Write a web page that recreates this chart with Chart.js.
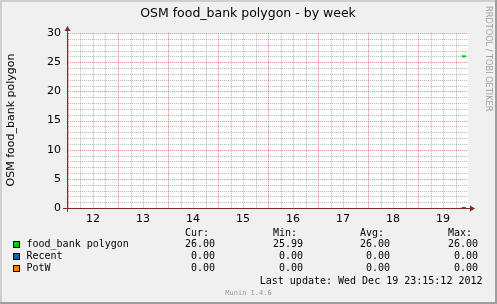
<!DOCTYPE html>
<html>
<head>
<meta charset="utf-8">
<title>OSM food_bank polygon - by week</title>
<script src="https://cdn.jsdelivr.net/npm/chart.js@4/dist/chart.umd.min.js"></script>
<style>
  html, body { margin: 0; padding: 0; background: #F0F0F0; }
  #wrap { width: 497px; height: 304px; }
</style>
</head>
<body>
<div id="wrap"><canvas id="graph" width="497" height="304"></canvas></div>
<script>
// Time is expressed as day-of-month (Dec 2012), 19.5 = Dec 19 12:00.
const dayTicks = [12, 13, 14, 15, 16, 17, 18, 19];
const dayLabels = ['12', '13', '14', '15', '16', '17', '18', '19'];
const xRange = [11.98, 20];
const yTicks = [0, 5, 10, 15, 20, 25, 30];

// Samples (30-minute steps, Dec 19 21:00 .. 23:00)
const sampleTimes = [19.875, 19.896, 19.917, 19.938, 19.958];
const foodBank = [26, 26, 25.99, 26, 26];
const recent = [0, 0, 0, 0, 0];
const potw = [0, 0, 0, 0, 0];

// Legend table
const seriesNames = ['food_bank polygon', 'Recent', 'PotW'];
const statHeaders = ['Cur:', 'Min:', 'Avg:', 'Max:'];
const statCur = [26.00, 0, 0];
const statMin = [25.99, 0, 0];
const statAvg = [26.00, 0, 0];
const statMax = [26.00, 0, 0];
const lastUpdate = 'Last update: Wed Dec 19 23:15:12 2012';

const COLORS = ['#00CC00', '#0066B3', '#FF8000'];
const AXIS = '#7E2A2A';
const GRID_MINOR = 'rgba(143,143,143,0.45)';
const GRID_MAJOR = 'rgba(245,0,0,0.32)';
const GRID_MINOR_FAINT = 'rgba(143,143,143,0.12)';
const GRID_MAJOR_FAINT = 'rgba(245,0,0,0.10)';

const toPoints = (vals) => sampleTimes.map((t, i) => ({ x: t, y: vals[i] }));
const isInt = (v, step) => Math.abs(v / step - Math.round(v / step)) < 1e-6;

const munin = {
  id: 'munin',
  beforeDraw(chart) {
    const { ctx, chartArea: a, width: W, height: H } = chart;
    ctx.save();
    ctx.fillStyle = '#F0F0F0';
    ctx.fillRect(0, 0, W, H);
    // bevelled frame
    ctx.fillStyle = '#CFCFCF';
    ctx.fillRect(0, 0, W, 2);
    ctx.fillRect(0, 0, 2, H);
    ctx.fillStyle = '#9E9E9E';
    ctx.fillRect(W - 2, 0, 2, H);
    ctx.fillRect(0, H - 2, W, 2);
    // canvas
    ctx.fillStyle = '#FFFFFF';
    ctx.fillRect(a.left, a.top, a.right - a.left, a.bottom - a.top);
    ctx.restore();
  },
  beforeDatasetsDraw(chart) {
    // dotted grid (1 on / 1 off): grey minor lines, red major lines, at the scale ticks
    const { ctx, chartArea: a, scales } = chart;
    const L = Math.round(a.left), R = Math.round(a.right);
    const T = Math.round(a.top), B = Math.round(a.bottom);
    ctx.save();
    const pass = (major) => {
      const dot = major ? GRID_MAJOR : GRID_MINOR;
      const faint = major ? GRID_MAJOR_FAINT : GRID_MINOR_FAINT;
      scales.x.ticks.forEach((t) => {
        if (isInt(t.value, 1) !== major) return;
        const col = Math.round(scales.x.getPixelForValue(t.value));
        if (col <= L || col >= R) return;
        ctx.fillStyle = faint;
        ctx.fillRect(col, T, 1, B - T);
        ctx.fillStyle = dot;
        for (let r = T; r < B; r += 2) ctx.fillRect(col, r, 1, 1);
      });
      scales.y.ticks.forEach((t) => {
        if (isInt(t.value, 5) !== major) return;
        const row = Math.round(scales.y.getPixelForValue(t.value));
        if (row >= B) return;
        ctx.fillStyle = faint;
        ctx.fillRect(L + 1, row, R - L - 1, 1);
        ctx.fillStyle = dot;
        for (let c = L + 1; c < R; c += 2) ctx.fillRect(c, row, 1, 1);
      });
    };
    pass(false);
    pass(true);
    ctx.restore();
  },
  afterDatasetsDraw(chart) {
    const { ctx, chartArea: a } = chart;
    const x0 = Math.round(a.left) + 0.5;
    const y0 = Math.round(a.bottom) + 0.5;
    ctx.save();
    ctx.strokeStyle = AXIS;
    ctx.fillStyle = AXIS;
    ctx.lineWidth = 1;
    ctx.beginPath();
    ctx.moveTo(a.left - 4, y0);
    ctx.lineTo(a.right + 2, y0);
    ctx.moveTo(x0, a.bottom + 4);
    ctx.lineTo(x0, a.top - 3);
    ctx.stroke();
    // arrow heads
    ctx.beginPath();
    ctx.moveTo(a.right + 2, y0 - 3);
    ctx.lineTo(a.right + 7, y0);
    ctx.lineTo(a.right + 2, y0 + 3);
    ctx.closePath();
    ctx.fill();
    ctx.beginPath();
    ctx.moveTo(x0 - 3, a.top - 2);
    ctx.lineTo(x0, a.top - 7);
    ctx.lineTo(x0 + 3, a.top - 2);
    ctx.closePath();
    ctx.fill();
    ctx.restore();
  },
  afterDraw(chart) {
    const { ctx } = chart;
    ctx.save();
    ctx.fillStyle = '#000';
    ctx.textBaseline = 'middle';

    // title
    ctx.font = '12.5px "DejaVu Sans"';
    ctx.textAlign = 'center';
    ctx.fillText('OSM food_bank polygon - by week', 248, 14);

    // vertical axis title
    ctx.save();
    ctx.translate(11.5, 120);
    ctx.rotate(-Math.PI / 2);
    ctx.font = '11px "DejaVu Sans"';
    ctx.fillText('OSM food_bank polygon', 0, 0);
    ctx.restore();

    // side credit
    ctx.save();
    ctx.translate(488, 6);
    ctx.rotate(Math.PI / 2);
    ctx.textAlign = 'left';
    ctx.fillStyle = '#A0A0A0';
    ctx.font = '8.2px "DejaVu Sans"';
    ctx.fillText('RRDTOOL / TOBI OETIKER', 0, 0);
    ctx.restore();

    // legend table
    ctx.font = '10px "DejaVu Sans Mono"';
    const colRight = [215, 303, 390, 478];
    const cols = [statCur, statMin, statAvg, statMax];
    const rowY = [244.5, 256.5, 268.5];
    ctx.textAlign = 'left';
    statHeaders.forEach((h, i) => ctx.fillText(h, colRight[i] - 30, 233));
    seriesNames.forEach((name, r) => {
      ctx.fillStyle = COLORS[r];
      ctx.fillRect(13, rowY[r] - 3.5, 7, 7);
      ctx.strokeStyle = '#000';
      ctx.lineWidth = 1;
      ctx.strokeRect(13.5, rowY[r] - 3, 6, 6);
      ctx.fillStyle = '#000';
      ctx.textAlign = 'left';
      ctx.fillText(name, 26.5, rowY[r]);
      ctx.textAlign = 'right';
      cols.forEach((col, c) => ctx.fillText(col[r].toFixed(2), colRight[c], rowY[r]));
    });
    ctx.textAlign = 'right';
    ctx.fillText(lastUpdate, 482.5, 281.5);

    // footer
    ctx.textAlign = 'center';
    ctx.fillStyle = '#9A9A9A';
    ctx.font = '7px "DejaVu Sans Mono"';
    ctx.fillText('Munin 1.4.6', 248.5, 293);
    ctx.restore();
  }
};

const lineSet = (label, vals, color) => ({
  label,
  data: toPoints(vals),
  borderColor: color,
  backgroundColor: color,
  borderWidth: 2,
  pointRadius: 0,
  tension: 0,
  borderCapStyle: 'butt'
});

new Chart(document.getElementById('graph'), {
  type: 'line',
  data: {
    datasets: [
      lineSet(seriesNames[0], foodBank, COLORS[0]),
      lineSet(seriesNames[1], recent, COLORS[1]),
      lineSet(seriesNames[2], potw, COLORS[2])
    ]
  },
  options: {
    responsive: false,
    animation: false,
    events: [],
    layout: { padding: { left: 0, top: 33, right: 29, bottom: 0 } },
    plugins: { legend: { display: false }, title: { display: false }, tooltip: { enabled: false } },
    scales: {
      x: {
        type: 'linear',
        min: xRange[0],
        max: xRange[1],
        afterBuildTicks(scale) {
          const t = [];
          for (let d = dayTicks[0]; d < xRange[1]; d += 0.25) t.push({ value: d });
          scale.ticks = t;
        },
        afterFit(scale) { scale.height = 96; },
        grid: { display: false, drawTicks: false },
        border: { display: false },
        ticks: {
          autoSkip: false,
          maxRotation: 0,
          padding: 5,
          color: '#000',
          font: { family: 'DejaVu Sans', size: 11 },
          callback: (v) => {
            const d = Math.floor(v + 1e-9);
            if (Math.abs(v - d - 0.5) > 1e-6) return '';
            const i = dayTicks.indexOf(d);
            return i >= 0 ? dayLabels[i] : '';
          }
        }
      },
      y: {
        type: 'linear',
        min: 0,
        max: 30,
        afterBuildTicks(scale) {
          const t = [];
          for (let v = yTicks[0]; v <= yTicks[yTicks.length - 1]; v += 1) t.push({ value: v });
          scale.ticks = t;
        },
        afterFit(scale) { scale.width = 67; },
        grid: { display: false, drawTicks: false },
        border: { display: false },
        ticks: {
          autoSkip: false,
          padding: 6,
          color: '#000',
          font: { family: 'DejaVu Sans', size: 11 },
          callback: (v) => (yTicks.includes(v) ? String(v) : '')
        }
      }
    }
  },
  plugins: [munin]
});
</script>
</body>
</html>
